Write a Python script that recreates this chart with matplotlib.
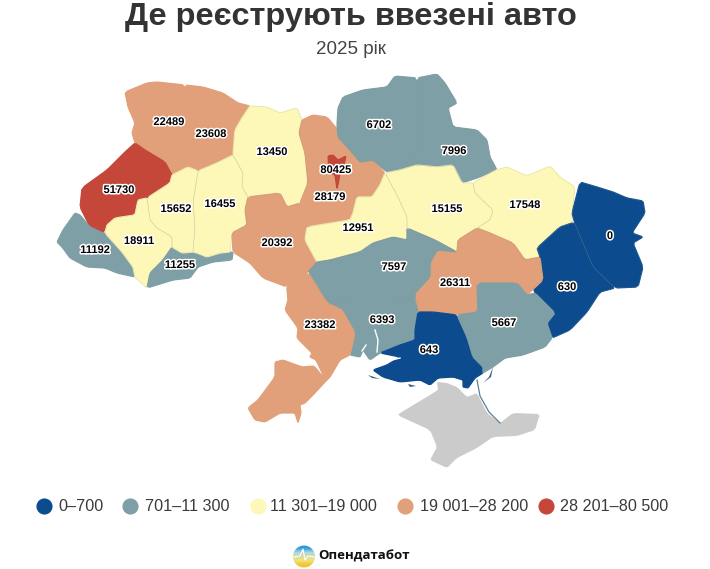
import numpy as np
import matplotlib
matplotlib.use("Agg")
import matplotlib.pyplot as plt
from matplotlib.patches import Polygon, Circle
import matplotlib.patheffects as pe

plt.rcParams['font.family'] = ['Liberation Sans', 'DejaVu Sans']

TITLE = "Де реєструють ввезені авто"
SUBTITLE = "2025 рік"
BRAND = "Опендатабот"
bin_edges = [701, 11301, 19001, 28201]
bin_labels = ["0–700", "701–11 300", "11 301–19 000", "19 001–28 200", "28 201–80 500"]
bin_colors = ["#0b4b8e", "#7f9fa6", "#fdf8b8", "#e1a079", "#c4473a"]
crimea_color = "#cbcbcb"

regions = ["Volyn", "Rivne", "Lviv", "Zakarpattia", "Ivano-Frankivsk", "Chernivtsi", "Ternopil",
           "Khmelnytskyi", "Zhytomyr", "Vinnytsia", "Kyiv obl", "Cherkasy", "Chernihiv", "Sumy",
           "Poltava", "Kharkiv", "Luhansk", "Donetsk", "Dnipropetrovsk", "Kirovohrad", "Mykolaiv",
           "Odesa", "Kherson", "Zaporizhzhia", "Kyiv"]
values = [22489, 23608, 51730, 11192, 18911, 11255, 15652,
          16455, 13450, 20392, 28179, 12951, 6702, 7996,
          15155, 17548, 0, 630, 26311, 7597, 6393,
          23382, 643, 5667, 80425]
label_xy = [(169,122),(211,134),(119,190),(95,250),(139,241),(180,265),(176,209),
            (220,204),(272,152),(277,243),(330,197),(358,228),(379,125),(454,151),
            (447,209),(525,205),(610,236),(567,287),(455,283),(394,267),(382,320),
            (320,325),(429,350),(504,323),(336,170)]

outlines = {
"Volyn": [(125,92),(147,83),(157,82),(185,85),(185,107),(193,123),(190,137),(173,145),(167,153),(165,162),(145,150),(135,143),(132,133),(135,123),(128,107)],
"Rivne": [(185,85),(203,87),(223,93),(238,103),(250,106),(242,118),(235,130),(233,155),(217,163),(198,171),(188,167),(172,175),(165,162),(167,153),(173,145),(190,137),(193,123),(185,107)],
"Lviv": [(135,143),(145,150),(165,162),(172,175),(170,183),(147,198),(138,200),(135,215),(115,218),(107,225),(103,233),(90,227),(80,207),(82,188),(107,170),(125,152)],
"Zakarpattia": [(75,213),(80,215),(90,227),(103,233),(105,233),(122,252),(133,267),(135,277),(117,273),(105,268),(87,267),(70,258),(62,247),(57,242),(63,230)],
"Ivano-Frankivsk": [(147,198),(150,220),(157,228),(172,237),(172,247),(163,260),(150,273),(147,288),(138,280),(135,277),(133,267),(122,252),(105,233),(107,225),(115,218),(135,215),(138,200)],
"Chernivtsi": [(172,247),(182,253),(197,253),(207,257),(220,253),(233,252),(232,260),(213,262),(198,267),(190,278),(173,280),(147,288),(150,273),(163,260)],
"Ternopil": [(172,175),(188,167),(198,171),(193,203),(195,227),(193,252),(182,253),(172,247),(172,237),(157,228),(150,220),(147,198),(170,183)],
"Khmelnytskyi": [(198,171),(217,163),(233,155),(243,173),(242,187),(248,197),(245,210),(247,225),(232,233),(230,252),(220,253),(207,257),(197,253),(193,252),(195,227),(193,203)],
"Zhytomyr": [(250,106),(267,107),(280,113),(297,108),(302,120),(299,133),(305,153),(308,183),(300,203),(287,207),(280,193),(248,197),(242,187),(243,173),(233,155),(235,130),(242,118)],
"Vinnytsia": [(248,197),(280,193),(287,207),(300,203),(303,223),(307,227),(305,240),(317,262),(308,272),(287,287),(263,278),(250,263),(233,252),(232,233),(247,225),(245,210)],
"Kyiv obl": [(302,120),(313,115),(327,117),(338,130),(338,137),(350,150),(360,162),(373,160),(385,173),(380,185),(372,197),(357,197),(353,213),(350,220),(307,227),(303,223),(300,203),(308,183),(305,153),(299,133)],
"Cherkasy": [(385,173),(397,195),(407,217),(407,228),(407,240),(393,237),(373,243),(360,252),(330,260),(317,262),(305,240),(307,227),(350,220),(353,213),(357,197),(372,197),(380,185)],
"Chernihiv": [(338,108),(343,97),(363,90),(387,87),(395,76),(417,78),(418,113),(418,137),(417,153),(400,170),(387,172),(373,160),(360,162),(350,150),(338,137),(337,125)],
"Sumy": [(417,78),(437,74),(445,83),(457,103),(448,108),(453,127),(477,130),(487,140),(490,157),(497,170),(477,178),(462,183),(453,165),(437,167),(417,165),(400,170),(417,153),(418,137),(418,113)],
"Poltava": [(385,173),(400,170),(417,165),(437,167),(453,165),(462,183),(473,183),(475,193),(493,210),(490,220),(477,228),(458,240),(457,252),(435,240),(407,228),(407,217),(397,195)],
"Kharkiv": [(473,183),(496,170),(507,167),(527,176),(550,166),(560,177),(575,187),(572,213),(572,223),(560,227),(537,248),(540,257),(525,260),(513,243),(490,233),(477,228),(490,220),(493,210),(475,193)],
"Luhansk": [(580,182),(597,187),(613,192),(627,198),(643,201),(645,213),(632,233),(643,237),(633,243),(643,267),(638,287),(615,288),(593,267),(583,243),(575,224),(572,213)],
"Donetsk": [(575,224),(583,243),(593,267),(615,288),(600,292),(587,312),(570,330),(552,338),(547,323),(555,313),(535,293),(533,287),(543,280),(540,257),(537,248),(560,227),(572,223)],
"Dnipropetrovsk": [(458,240),(477,228),(490,233),(513,243),(525,260),(540,257),(543,280),(527,295),(517,283),(477,283),(478,312),(457,315),(433,312),(418,312),(415,300),(415,293),(430,277),(430,263),(437,250),(457,252)],
"Kirovohrad": [(330,260),(360,252),(373,243),(393,237),(407,240),(407,228),(435,240),(457,252),(437,250),(430,263),(430,277),(415,293),(415,300),(385,295),(350,300),(327,303),(308,272),(317,262)],
"Mykolaiv": [(327,303),(350,300),(385,295),(415,300),(418,312),(415,330),(415,340),(400,345),(380,353),(370,360),(363,350),(360,357),(350,355),(355,333),(342,310)],
"Odesa": [(287,287),(308,272),(327,303),(342,310),(355,333),(350,355),(340,360),(330,377),(326,381),(313,395),(305,403),(300,405),(301,413),(298,423),(295,413),(280,413),(265,422),(255,420),(248,408),(258,400),(275,377),(275,362),(283,360),(302,367),(314,366),(325,379),(316,360),(310,357),(312,353),(297,338),(298,328),(285,310),(288,300),(287,290)],
"Kherson": [(418,312),(433,312),(457,315),(467,337),(473,357),(483,367),(483,373),(475,378),(468,388),(463,387),(463,380),(453,377),(438,378),(430,385),(420,380),(400,382),(383,377),(373,370),(387,365),(400,357),(380,353),(400,345),(415,340),(415,330)],
"Zaporizhzhia": [(457,315),(478,312),(477,283),(517,283),(527,295),(535,293),(555,313),(547,323),(552,338),(545,347),(523,355),(505,358),(493,367),(483,373),(483,367),(473,357),(467,337)],
"Kyiv": [(328,156),(333,155),(338,160),(346,156),(344,165),(340,172),(339,180),(337,189),(335,175),(329,172)],
}
crimea_outline = [(437,382),(447,383),(457,387),(467,397),(477,393),(487,413),(500,423),(513,413),(540,414),(535,430),(517,436),(493,437),(477,448),(457,458),(447,468),(430,460),(437,447),(430,430),(397,415),(410,407),(430,395),(438,390)]
islands = [[(368,375),(380,379),(372,378)], [(408,384),(416,386),(410,387)], [(483,383),(489,377),(493,367),(491,377)]]
water_lines = [[(375,330),(378,340),(377,352)], [(362,351),(366,345)], [(380,363),(400,358)]]
spit = [(477,380),(480,396),(489,412),(500,423)]
legend_x = [44, 130, 258, 405, 546]
legend_text_x = [58, 145, 270, 420, 560]


def soften(pts, q=0.1):
    p = np.asarray(pts, dtype=float)
    nxt = np.roll(p, -1, axis=0)
    a = p + q * (nxt - p)
    b = p + (1 - q) * (nxt - p)
    return np.stack([a, b], axis=1).reshape(-1, 2)


fig = plt.figure(figsize=(7.1, 5.69), dpi=100)
ax = fig.add_axes([0, 0, 1, 1])

idx = np.digitize(values, bin_edges)
ax.add_patch(Polygon(soften(crimea_outline), closed=True, fc=crimea_color, ec="none"))
for name, i in zip(regions, idx):
    ax.add_patch(Polygon(soften(outlines[name]), closed=True, fc=bin_colors[i], ec=bin_colors[i],
                         lw=0.9, joinstyle='round', zorder=2 if name != "Kyiv" else 2.5))
for name, i in zip(regions, idx):
    if i == 2 or name in ("Chernihiv", "Sumy", "Kirovohrad", "Luhansk", "Donetsk"):
        ax.add_patch(Polygon(soften(outlines[name]), closed=True, fc="none",
                             ec=(0.55, 0.6, 0.55, 0.28), lw=0.4, zorder=2.2))
for s in islands:
    ax.add_patch(Polygon(s, closed=True, fc="#3c5f78", ec="none", zorder=2))
for w in water_lines:
    ax.plot(*zip(*w), color="white", lw=1.0, zorder=3)
ax.plot(*zip(*spit), color="#5c7f96", lw=0.9, zorder=3)

halo = [pe.withStroke(linewidth=2.2, foreground="white")]
for v, (x, y) in zip(values, label_xy):
    ax.text(x, y, str(v), ha="center", va="center", fontsize=8, fontweight="bold",
            color="black", path_effects=halo, zorder=5)

ax.text(351, 17, TITLE, ha="center", va="center", fontsize=23.4, fontweight="bold", color="#333333")
ax.text(351, 49, SUBTITLE, ha="center", va="center", fontsize=13.5, color="#444444")

for x, tx, c, t in zip(legend_x, legend_text_x, bin_colors, bin_labels):
    ax.scatter([x], [506], s=135, color=c, linewidths=0, zorder=3)
    ax.text(tx, 506, t, ha="left", va="center", fontsize=11.6, color="#3a3a3a")

# brand mark
grad = np.array([[0.0], [0.42], [0.62], [1.0]])
cmap = matplotlib.colors.LinearSegmentedColormap.from_list("b", ["#2f9bd8", "#a8d8e6", "#f5e27a", "#f0c52e"])
im = ax.imshow(grad, extent=(293, 315, 568, 545), cmap=cmap, aspect="auto", interpolation="bilinear", zorder=3)
im.set_clip_path(Circle((304, 556.5), 11, transform=ax.transData))
ax.plot([294, 300, 303, 305, 308, 314], [557, 556, 549, 560, 556, 557], color="white", lw=0.8, zorder=4)
ax.text(318, 556, BRAND, ha="left", va="center", fontsize=9.5, fontweight="bold", color="#111111",
        family=["Open Sans", "DejaVu Sans"])

ax.set_xlim(0, 710)
ax.set_ylim(569, 0)
ax.axis("off")
fig.savefig("out.png", dpi=100, facecolor="white")
